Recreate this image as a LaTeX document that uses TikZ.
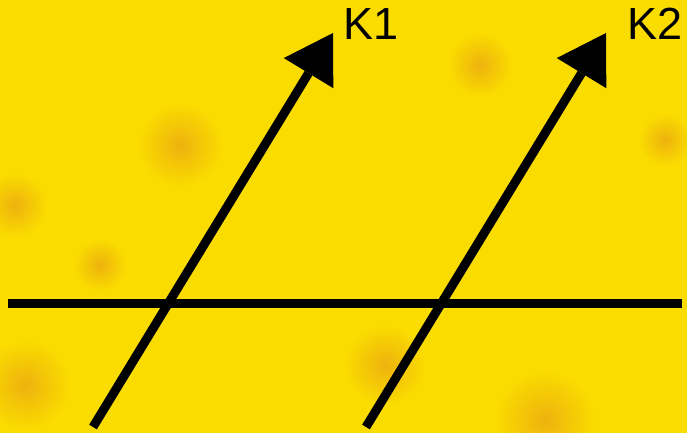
\documentclass[tikz,border=0pt]{standalone}
\usepackage{fontspec}
\setmainfont{Liberation Sans}
\usetikzlibrary{arrows.meta}
\definecolor{bgyellow}{RGB}{250,220,0}
\definecolor{blob}{RGB}{238,178,14}
\tikzset{
  vec/.style={line width=9pt, line cap=butt, -{Triangle[length=47pt,width=58pt,line width=0pt]}},
  axisline/.style={line width=9pt, line cap=butt},
  lbl/.style={anchor=base west, inner sep=0pt, font=\fontsize{45}{45}\selectfont},
  spot/.style={inner color=blob, outer color=bgyellow}
}
\begin{document}
\begin{tikzpicture}[x=1pt,y=-1pt]
\fill[bgyellow] (0,0) rectangle (687,433);
\useasboundingbox (0,0) rectangle (687,433);
% background mottling
\shade[spot] (180,145) circle (42);
\shade[spot] (385,365) circle (40);
\shade[spot] (545,420) circle (50);
\shade[spot] (25,385) circle (45);
\shade[spot] (15,205) circle (32);
\shade[spot] (100,265) circle (26);
\shade[spot] (480,65) circle (32);
\shade[spot] (665,140) circle (26);
% geometry
\coordinate (h1) at (8,303);
\coordinate (h2) at (682,303);
\coordinate (a1s) at (93,427);
\coordinate (a1e) at (333,33);
\coordinate (a2s) at (366,427);
\coordinate (a2e) at (606,33);
\draw[axisline] (h1) -- (h2);
\draw[vec] (a1s) -- (a1e);
\draw[vec] (a2s) -- (a2e);
\node[lbl] (k1) at (343,40) {K1};
\node[lbl] (k2) at (627,40) {K2};
\end{tikzpicture}
\end{document}
